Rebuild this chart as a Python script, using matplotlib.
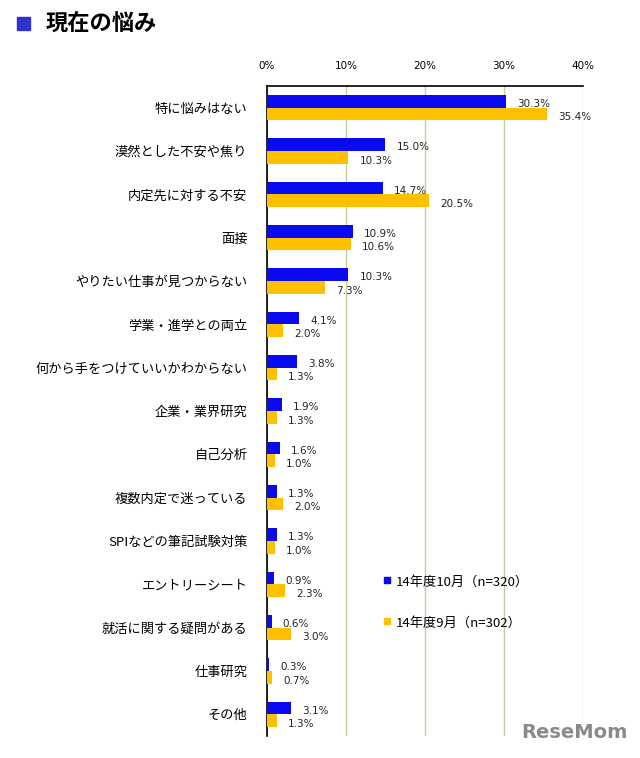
import matplotlib
matplotlib.use("Agg")
import matplotlib.pyplot as plt
import numpy as np

plt.rcParams['font.family'] = ['Noto Sans CJK JP', 'DejaVu Sans']

categories = ["特に悩みはない", "漠然とした不安や焦り", "内定先に対する不安", "面接",
              "やりたい仕事が見つからない", "学業・進学との両立", "何から手をつけていいかわからない",
              "企業・業界研究", "自己分析", "複数内定で迷っている", "SPIなどの筆記試験対策",
              "エントリーシート", "就活に関する疑問がある", "仕事研究", "その他"]
oct_vals = [30.3, 15.0, 14.7, 10.9, 10.3, 4.1, 3.8, 1.9, 1.6, 1.3, 1.3, 0.9, 0.6, 0.3, 3.1]
sep_vals = [35.4, 10.3, 20.5, 10.6, 7.3, 2.0, 1.3, 1.3, 1.0, 2.0, 1.0, 2.3, 3.0, 0.7, 1.3]
series_names = ["14年度10月（n=320）", "14年度9月（n=302）"]
xticks = [0, 10, 20, 30, 40]

blue = "#0a0af0"
orange = "#ffc000"

fig = plt.figure(figsize=(6.4, 7.58), dpi=100)
ax = fig.add_axes([0.417, 0.029, 0.494, 0.8575])

n = len(categories)
y = np.arange(n)
h = 0.29
ax.barh(y - h / 2, oct_vals, height=h, color=blue, zorder=3)
ax.barh(y + h / 2, sep_vals, height=h, color=orange, zorder=3)

for i in range(n):
    ax.text(oct_vals[i] + 1.4, y[i] - h / 2 + 0.06, f"{oct_vals[i]:.1f}%", fontsize=7.5,
            va='center', ha='left', color='#222222', family=['DejaVu Sans'])
    ax.text(sep_vals[i] + 1.4, y[i] + h / 2 + 0.08, f"{sep_vals[i]:.1f}%", fontsize=7.5,
            va='center', ha='left', color='#222222', family=['DejaVu Sans'])

ax.set_xlim(0, 40)
ax.set_ylim(n - 0.5, -0.5)
ax.set_yticks(y)
ax.set_yticklabels(categories, fontsize=9.5)
ax.set_xticks(xticks)
ax.set_xticklabels([f"{t}%" for t in xticks], fontsize=7.5, family=['DejaVu Sans'])
ax.xaxis.tick_top()
ax.tick_params(axis='both', length=0)
ax.tick_params(axis='x', pad=11)
ax.tick_params(axis='y', pad=14)
ax.grid(axis='x', color='#bcd39a', linewidth=1, zorder=0)
for s in ['right', 'bottom']:
    ax.spines[s].set_visible(False)
ax.spines['top'].set_linewidth(1.2)
ax.spines['left'].set_linewidth(1.2)

# legend
ax.scatter([15.2], [10.9], marker='s', s=22, color=blue, zorder=4, clip_on=False)
ax.text(16.3, 10.95, series_names[0], fontsize=9.5, va='center', ha='left')
ax.scatter([15.2], [11.85], marker='s', s=22, color=orange, zorder=4, clip_on=False)
ax.text(16.3, 11.9, series_names[1], fontsize=9.5, va='center', ha='left')

# title
fig.patches.append(plt.Rectangle((0.027, 0.960), 0.02, 0.018, transform=fig.transFigure,
                                 color='#3333cc'))
fig.text(0.072, 0.969, "現在の悩み", fontsize=16, fontweight='bold', va='center', ha='left')

# watermark
fig.text(0.98, 0.021, "ReseMom", fontsize=14, fontweight='bold', color='#8a8a8a',
         ha='right', va='bottom', family=['DejaVu Sans'])

fig.savefig("out.png", dpi=100)
